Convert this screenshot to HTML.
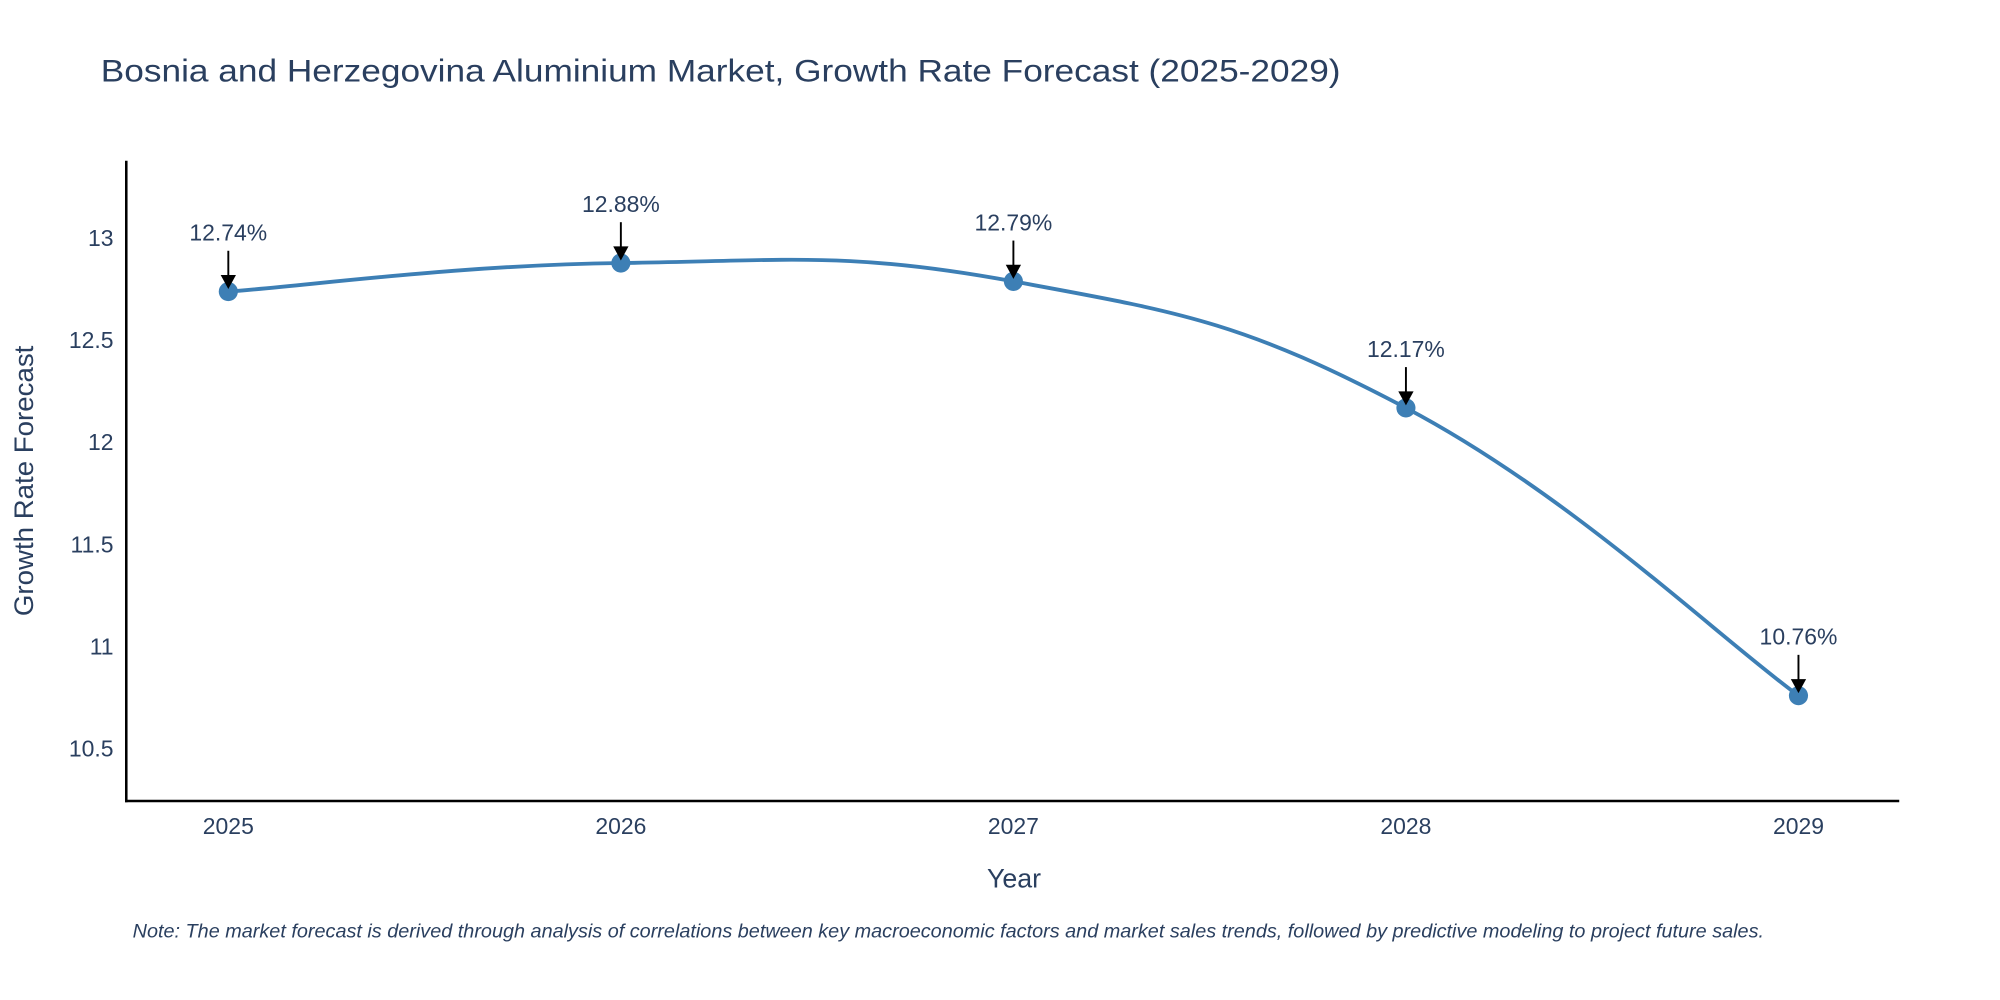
<!DOCTYPE html>
<html><head><meta charset="utf-8"><style>
html,body{margin:0;padding:0;background:#fff;}
svg{display:block;font-family:"Liberation Sans",sans-serif;}
</style></head><body>
<svg id="chart" width="2000" height="1000" viewBox="0 0 1568 784" xmlns="http://www.w3.org/2000/svg">
<rect width="1568" height="784" fill="#fff"/>
<text x="79" y="64" font-size="25" fill="#2a3f5f" textLength="972" lengthAdjust="spacingAndGlyphs">Bosnia and Herzegovina Aluminium Market, Growth Rate Forecast (2025-2029)</text>
<g id="yticks"></g><g id="xticks"></g>
<line x1="99" y1="126" x2="99" y2="629" stroke="#000" stroke-width="2"/>
<line x1="98" y1="628" x2="1489" y2="628" stroke="#000" stroke-width="2"/>
<path id="line" fill="none" stroke="#3d7fb5" stroke-width="3"/>
<g id="marks"></g>
<text transform="translate(26,377) rotate(-90)" text-anchor="middle" font-size="21" fill="#2a3f5f" textLength="212" lengthAdjust="spacingAndGlyphs">Growth Rate Forecast</text>
<text x="795" y="696" text-anchor="middle" font-size="21" fill="#2a3f5f">Year</text>
<text x="104" y="735" font-size="15" font-style="italic" fill="#2a3f5f" textLength="1279" lengthAdjust="spacingAndGlyphs">Note: The market forecast is derived through analysis of correlations between key macroeconomic factors and market sales trends, followed by predictive modeling to project future sales.</text>
</svg>
<script>
const years = [2025, 2026, 2027, 2028, 2029];
const values = [12.74, 12.88, 12.79, 12.17, 10.76];
const yTicks = [10.5, 11, 11.5, 12, 12.5, 13];
const NS = "http://www.w3.org/2000/svg";
function xs(i){ return 179 + (i - 2025) * 307.75; }
function ys(v){ return 187 + (13 - v) * 160; }
function mk(tag, attrs, parent, txt){
  const e = document.createElementNS(NS, tag);
  for (const k in attrs) e.setAttribute(k, attrs[k]);
  if (txt !== undefined) e.textContent = txt;
  parent.appendChild(e); return e;
}
const yg = document.getElementById('yticks');
yTicks.forEach(t => {
  const e = mk('text', {x: 89, y: ys(t) + 6, 'text-anchor': 'end', 'font-size': 18, fill: '#2a3f5f'}, yg, String(t));
  
  
});
const xg = document.getElementById('xticks');
years.forEach(y => {
  const e = mk('text', {x: xs(y), y: 654, 'text-anchor': 'middle', 'font-size': 18, fill: '#2a3f5f'}, xg, String(y));
  
  
});
const pts = years.map((y, i) => [xs(y), ys(values[i])]);
let d = 'M' + pts[0][0] + ',' + pts[0][1];
const s = 0.21;
for (let i = 0; i < pts.length - 1; i++) {
  const p0 = pts[Math.max(0, i - 1)], p1 = pts[i], p2 = pts[i + 1], p3 = pts[Math.min(pts.length - 1, i + 2)];
  const c1 = [p1[0] + (p2[0] - p0[0]) * s, p1[1] + (p2[1] - p0[1]) * s];
  const c2 = [p2[0] - (p3[0] - p1[0]) * s, p2[1] - (p3[1] - p1[1]) * s];
  d += ' C' + c1 + ' ' + c2 + ' ' + p2;
}
document.getElementById('line').setAttribute('d', d);
const mg = document.getElementById('marks');
pts.forEach((p, i) => {
  const c = mk('circle', {cx: p[0], cy: p[1], r: 7.5, fill: '#3d7fb5'}, mg);
  
  
  const l = mk('line', {x1: p[0], y1: p[1] - 32, x2: p[0], y2: p[1] - 10, stroke: '#000', 'stroke-width': 1.5}, mg);
  
  
  const h = mk('path', {d: 'M' + (p[0] - 6) + ',' + (p[1] - 13) + ' L' + (p[0] + 6) + ',' + (p[1] - 13) + ' L' + p[0] + ',' + (p[1] - 2) + 'Z', fill: '#000'}, mg);
  
  
  const t = mk('text', {x: p[0], y: p[1] - 40, 'text-anchor': 'middle', 'font-size': 18, fill: '#2a3f5f'}, mg, values[i].toFixed(2) + '%');
  
  
});
</script>
</body></html>
